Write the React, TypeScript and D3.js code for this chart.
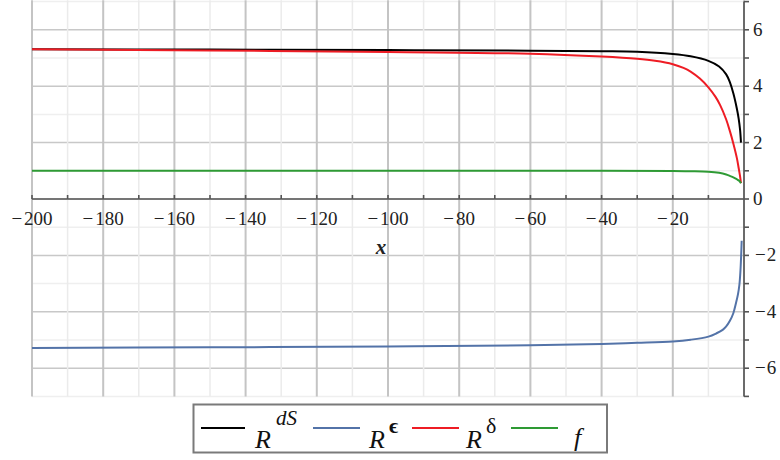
import React from "react";
import * as d3 from "d3";

// sample points
const xsDS = [-200, -150, -100, -60, -40, -30, -20, -15, -10, -7, -5, -4, -3, -2, -1.5, -1.1, -0.85];
const rdS = [5.31, 5.3, 5.28, 5.26, 5.24, 5.22, 5.14, 5.06, 4.9, 4.7, 4.42, 4.15, 3.75, 3.2, 2.85, 2.45, 2.0];

const xsDelta = [-200, -150, -100, -60, -40, -30, -25, -20, -17, -15, -12.4, -10, -8, -6.7, -5, -3.9, -3, -2, -1.5, -1.1, -0.85];
const rDelta = [5.31, 5.27, 5.21, 5.15, 5.05, 4.97, 4.9, 4.78, 4.65, 4.52, 4.27, 3.96, 3.62, 3.33, 2.82, 2.38, 1.97, 1.45, 1.1, 0.8, 0.56];

const xsF = [-200, -100, -40, -20, -15, -10, -7, -5, -4, -3, -2, -1.5, -1.1, -0.85];
const fVals = [1.0, 1.0, 1.0, 0.99, 0.985, 0.97, 0.93, 0.87, 0.82, 0.77, 0.7, 0.66, 0.61, 0.56];

const xsEps = [-200, -150, -100, -60, -40, -30, -20, -15, -10, -7.7, -6, -5, -4, -3, -2.25, -1.7, -1.3, -1.0, -0.8, -0.65];
const rEps = [-5.28, -5.26, -5.23, -5.19, -5.14, -5.1, -5.05, -4.99, -4.88, -4.76, -4.64, -4.52, -4.33, -4.05, -3.69, -3.38, -3.05, -2.55, -2.0, -1.48];

const xTickLabels = [-200, -180, -160, -140, -120, -100, -80, -60, -40, -20];
const yTickLabels = [6, 4, 2, 0, -2, -4, -6];

const series = [
    { key: "dS", xs: xsDS, ys: rdS, color: "#000000" },
    { key: "eps", xs: xsEps, ys: rEps, color: "#5373a8" },
    { key: "delta", xs: xsDelta, ys: rDelta, color: "#ee1c24" },
    { key: "f", xs: xsF, ys: fVals, color: "#2e9a34" },
];

const W = 780;
const H = 460;
const FONT = "Liberation Serif, DejaVu Serif, serif";

export default function App() {
    const x = d3.scaleLinear().domain([-200, 0]).range([32, 744]);
    const y = d3.scaleLinear().domain([-7, 7]).range([396.4, 1.6]);

    const line = d3.line<[number, number]>()
        .x(d => x(d[0]))
        .y(d => y(d[1]))
        .curve(d3.curveCatmullRom.alpha(0.5));

    const vGrid = d3.range(-200, 1, 10);
    const hGrid = d3.range(-7, 8, 1);
    const gridTop = y(7.05);
    const gridBottom = y(-7);

    return (
        <svg width={W} height={H} style={{ position: "absolute", left: 0, top: 0, background: "#fff" }}>
            {/* grid */}
            <g>
                {hGrid.map(v => (
                    <line key={`h${v}`} x1={x(-200)} x2={x(0)} y1={y(v)} y2={y(v)}
                        stroke={v % 2 === 0 ? "#c8c8c8" : "#efefef"} strokeWidth={1.5} />
                ))}
                {vGrid.map(v => (
                    <line key={`v${v}`} x1={x(v)} x2={x(v)} y1={gridTop} y2={gridBottom}
                        stroke={v % 20 === 0 ? "#c4c4c4" : "#ebebeb"} strokeWidth={v % 20 === 0 ? 2 : 1.5} />
                ))}
            </g>

            {/* axes */}
            <g stroke="#555" strokeWidth={1.6}>
                <line x1={x(-200)} x2={x(0)} y1={y(0)} y2={y(0)} />
                {vGrid.filter(v => v < 0).map(v => (
                    <line key={`xt${v}`} x1={x(v)} x2={x(v)} y1={y(0)} y2={y(0) - 4} />
                ))}
                <line x1={x(0)} x2={x(0)} y1={y(7)} y2={y(-7)} />
                {hGrid.map(v => (
                    <line key={`yt${v}`} x1={x(0)} x2={x(0) + 5} y1={y(v)} y2={y(v)} />
                ))}
            </g>

            {/* curves */}
            {series.map(s => (
                <path key={s.key}
                    d={line(s.xs.map((xv, i) => [xv, s.ys[i]] as [number, number])) || ""}
                    fill="none" stroke={s.color} strokeWidth={2} strokeLinejoin="round" />
            ))}

            {/* tick labels */}
            <g style={{ fontFamily: FONT, fontSize: 19 }} fill="#222">
                {xTickLabels.map(v => (
                    <text key={`xl${v}`} x={x(v)} y={y(0) + 26} textAnchor="middle">
                        {"\u2212"}<tspan dx={2}>{Math.abs(v)}</tspan>
                    </text>
                ))}
                {yTickLabels.map(v => (
                    <text key={`yl${v}`} x={x(0) + (v < 0 ? 11 : 9)} y={y(v) + 6}>
                        {v < 0 ? <>{"\u2212"}<tspan dx={1}>{Math.abs(v)}</tspan></> : v}
                    </text>
                ))}
                <text x={381} y={y(0) + 55} textAnchor="middle"
                    style={{ fontStyle: "italic", fontWeight: "bold", fontSize: 21 }}>x</text>
            </g>

            {/* legend */}
            <g style={{ fontFamily: FONT }} fill="#111">
                <rect x={193.5} y={404.5} width={413.5} height={48} fill="#fff" stroke="#7a7a7a" strokeWidth={2} />
                <line x1={201} x2={245} y1={428} y2={428} stroke={series[0].color} strokeWidth={2} />
                <text x={255} y={448} style={{ fontStyle: "italic", fontSize: 26 }}>R</text>
                <text x={276} y={425} style={{ fontStyle: "italic", fontSize: 21 }}>dS</text>

                <line x1={313} x2={360} y1={428} y2={428} stroke={series[1].color} strokeWidth={2} />
                <text x={369} y={448} style={{ fontStyle: "italic", fontSize: 26 }}>R</text>
                <text x={389} y={433} style={{ fontSize: 22, fontWeight: "bold" }}>{"\u03F5"}</text>

                <line x1={412} x2={459} y1={428} y2={428} stroke={series[2].color} strokeWidth={2} />
                <text x={466} y={448} style={{ fontStyle: "italic", fontSize: 26 }}>R</text>
                <text x={486} y={433} style={{ fontSize: 22 }}>{"\u03B4"}</text>

                <line x1={511} x2={558} y1={428} y2={428} stroke={series[3].color} strokeWidth={2} />
                <text x={574} y={446} style={{ fontStyle: "italic", fontSize: 26 }}>f</text>
            </g>
        </svg>
    );
}
